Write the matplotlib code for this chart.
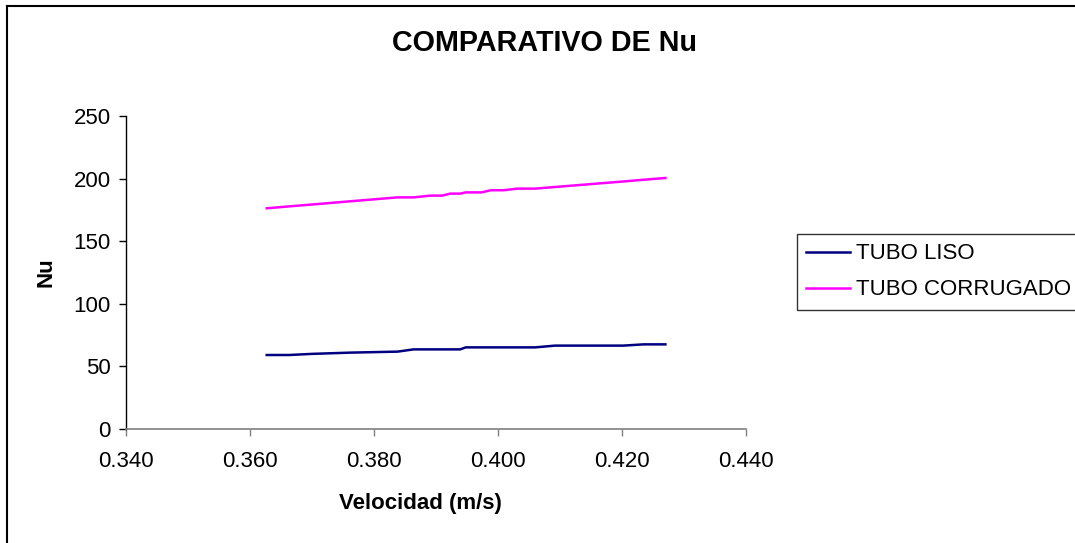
import matplotlib
matplotlib.use("Agg")
import matplotlib.pyplot as plt
from matplotlib.lines import Line2D

plt.rcParams['font.family'] = ['Liberation Sans', 'DejaVu Sans']

velocidad = [0.3627, 0.3663, 0.3700, 0.3762, 0.3838, 0.3864, 0.3891, 0.3910, 0.3923, 0.3939,
             0.3948, 0.3974, 0.3988, 0.4009, 0.4031, 0.4060, 0.4092, 0.4202, 0.4235, 0.4270]
nu_liso = [59.1, 59.1, 60.0, 61.0, 61.8, 63.6, 63.6, 63.6, 63.6, 63.6,
           65.2, 65.2, 65.2, 65.2, 65.2, 65.2, 66.6, 66.6, 67.6, 67.6]
nu_corrugado = [176.3, 177.8, 179.3, 181.9, 185.0, 185.0, 186.4, 186.4, 188.0, 188.0,
                189.0, 189.0, 190.7, 190.7, 192.0, 192.0, 193.3, 197.7, 199.1, 200.5]

x_ticks = [0.340, 0.360, 0.380, 0.400, 0.420, 0.440]
y_ticks = [0, 50, 100, 150, 200, 250]

W, H = 1075, 543
fig = plt.figure(figsize=(W / 100, H / 100), dpi=100)
ax = fig.add_axes([126 / W, 1 - 429 / H, (746 - 126) / W, (429 - 116) / H])

ax.plot(velocidad, nu_liso, color='#000080', lw=1.8, label='TUBO LISO')
ax.plot(velocidad, nu_corrugado, color='#FF00FF', lw=1.8, label='TUBO CORRUGADO')

ax.set_xlim(0.340, 0.440)
ax.set_ylim(0, 250)
ax.set_xticks(x_ticks)
ax.set_xticklabels([f"{v:.3f}" for v in x_ticks])
ax.set_yticks(y_ticks)
ax.set_yticklabels([str(v) for v in y_ticks])
ax.tick_params(axis='both', direction='out', length=5, width=1, labelsize=16, colors='black')
ax.tick_params(axis='x', pad=11, color='#808080')
ax.tick_params(axis='y', pad=6)
for s in ['top', 'right']:
    ax.spines[s].set_visible(False)
ax.spines['left'].set_color('black')
ax.spines['bottom'].set_color('#808080')
ax.spines['left'].set_linewidth(1)
ax.spines['bottom'].set_linewidth(1.2)

fig.text(545 / W, 1 - 43 / H, 'COMPARATIVO DE Nu', ha='center', va='center',
         fontsize=20.7, fontweight='bold')
fig.text(420 / W, 1 - 504 / H, 'Velocidad (m/s)', ha='center', va='center',
         fontsize=16, fontweight='bold')
fig.text(46 / W, 1 - 272 / H, 'Nu', ha='center', va='center', rotation=90,
         fontsize=16, fontweight='bold')

leg = ax.legend(loc='upper left', bbox_to_anchor=(797 / W, 1 - 234 / H),
                bbox_transform=fig.transFigure, frameon=True, fancybox=False,
                fontsize=16, handlelength=1.95, handletextpad=0.3,
                labelspacing=0.68, borderpad=0.42, borderaxespad=0)
leg.get_frame().set_edgecolor('black')
leg.get_frame().set_linewidth(1)
for line in leg.get_lines():
    line.set_linewidth(1.8)

# outer chart border (only top and left edges fall inside the picture)
fig.add_artist(Line2D([7 / W, 1.0], [1 - 6 / H, 1 - 6 / H], transform=fig.transFigure,
                      color='black', lw=1.5))
fig.add_artist(Line2D([7 / W, 7 / W], [0.0, 1 - 6 / H], transform=fig.transFigure,
                      color='black', lw=1.5))

fig.savefig('out.png', dpi=100, facecolor='white')
